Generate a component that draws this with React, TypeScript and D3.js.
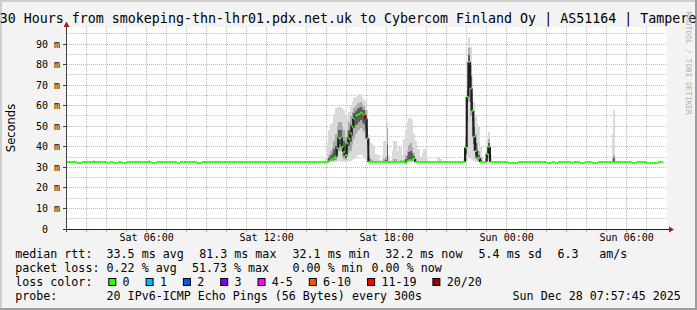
import React from 'react';
import * as d3 from 'd3';

// ---------- data (5-minute bins starting Sat 02:00) ----------
const N = NaN;
const median: number[] = [
  32.6, 32.6, 32.6, 32.6, 32.6, 32.6, 32.1, 32.1, 32.1, 32.6, 32.6, 32.6, // 02h
  32.6, 32.6, 32.6, 32.6, 32.6, 32.6, 32.6, 32.6, 32.6, 32.6, 32.6, 32.6, // 03h
  32.1, 32.1, 32.6, 32.6, 32.1, 32.1, 32.1, 32.6, 32.6, 32.1, 32.1, 32.1, // 04h
  32.6, 32.6, 32.6, 32.6, 32.6, 32.6, 32.6, 32.6, 32.6, 32.6, 32.6, 32.6, // 05h
  32.6, 32.6, 32.6, 32.1, 32.1, 32.1, 32.6, 32.6, 32.6, 32.6, 32.6, 32.6, // 06h
  32.6, 32.6, 32.6, 32.6, 32.6, 32.6, 32.1, 32.1, 32.6, 32.6, 32.6, 32.6, // 07h
  32.6, 32.6, 32.6, 32.6, 32.6, 32.6, 32.1, 32.1, 32.1, 32.6, 32.6, 32.6, // 08h
  32.6, 32.6, 32.6, 32.6, 32.6, 32.6, 32.6, 32.6, 32.6, 32.6, 32.6, 32.6, // 09h
  32.6, 32.6, 32.6, 32.6, 32.6, 32.6, 32.6, 32.6, 32.6, 32.6, 32.6, 32.6, // 10h
  32.6, 32.6, 32.6, 32.6, 32.6, 32.6, 32.6, 32.6, 32.6, 32.6, 32.6, 32.6, // 11h
  32.6, 32.6, 32.6, 32.6, 32.6, 32.6, 32.6, 32.6, 32.6, 32.6, 32.6, 32.6, // 12h
  32.6, 32.6, 32.6, 32.6, 32.6, 32.6, 32.6, 32.6, 32.6, 32.6, 32.6, 32.6, // 13h
  32.6, 32.6, 32.6, 32.6, 32.6, 32.6, 32.6, 32.6, 32.6, 32.6, 32.6, 32.6, // 14h
  32.6, 33.0, 33.6, 34.0, 34.6, 35.2, 39.3, 44.1, 44.4, 40.0, 37.5, 36.0, // 15h
  41.7, 44.0, 46.5, 49.8, 53.8, 55.1, 55.5, 55.9, 56.6, 56.2, 55.4, 53.4, // 16h
  44.1, 32.6, 32.6, 32.6, 32.6, 32.6, 32.6, 32.6, 32.6, 32.6, 32.6, 32.6, // 17h
  32.6, 32.6, 32.6, 32.6, 32.6, 32.6, 32.6, 32.6, 32.6, 32.6, 32.6, 32.1, // 18h
  33.0, 33.5, 33.5, 33.8, 34.2, 32.6, 32.6, 32.6, 32.6, 32.6, 32.6, 32.6, // 19h
  32.6, 32.6, 32.6, 32.6, 32.6, 32.6, 32.6, 32.6, 32.6, 32.6, 32.6, 32.6, // 20h
  32.6, 32.6, 32.6, 32.6, 32.6, 32.6, 32.6, 32.6, 32.6, 32.6, 32.6, 39.7, // 21h
  64.3, 81.3, 68.4, 57.5, 44.9, 38.0, 34.7, 34.4, 32.6, 32.6, 32.6, 32.6, // 22h
  36.5, 40.0, 32.6, 32.6, 32.6, 32.6, 32.6, 32.6, 32.6, 32.6, 32.6, 32.6, // 23h
  32.6, 32.1, 32.1, 32.1, 32.1, 32.1, 32.1, 32.6, 32.6, 32.6, 32.6, 32.6, // 00h
  32.6, 32.6, 32.6, 32.6, 32.6, 32.6, 32.6, 32.6, 32.6, 32.6, 32.6, 32.6, // 01h
  32.1, 32.1, 32.1, 32.6, 32.6, 32.1, 32.1, 32.6, 32.6, 32.6, 32.6, 32.6, // 02h
  32.6, 32.6, 32.6, 32.1, 32.6, 32.6, 32.6, 32.6, 32.1, 32.1, 32.1, 32.6, // 03h
  32.6, 32.6, 32.6, 32.1, 32.1, 32.1, 32.1, 32.6, 32.6, 32.6, 32.6, 32.6, // 04h
  32.6, 32.6, 32.6, 32.6, 32.6, 32.6, 32.6, 32.6, 32.6, 32.6, 32.6, 32.6, // 05h
  32.6, 32.6, 32.6, 32.1, 32.1, 32.1, 32.6, 32.6, 32.6, 32.6, 32.6, 32.6, // 06h
  32.1, 32.1, 32.1, 32.1, 32.1, 32.1, 32.1, 32.6, 32.6, 32.6, N, N,          // 07h
];

// loss classes (index into lossLabels) for bins with packet loss
const lossBins = [178, 179];
const lossClass = [5, 6];
const lossLabels = ['0', '1', '2', '3', '4-5', '6-10', '11-19', '20/20'];
const lossColors = ['#26ff00', '#00b8ff', '#0059ff', '#7e00ff', '#ff00ff', '#ff5500', '#ff0000', '#a10000'];

// smoke rows: [bin, min, lower, upper, max] in ms
const smokeEarly = [
  [16, 32.5, 32.6, 32.8, 33.8],
  [49, 32.5, 32.6, 32.8, 33.5],
];
const smokeEpisode1 = [
  [155, 32.4, 32.5, 33, 35], [156, 32.4, 32.5, 34, 42], [157, 32.4, 32.6, 36, 48],
  [158, 32.4, 33, 38, 51], [159, 32.4, 33, 40, 52], [160, 32.4, 33, 43, 56],
  [161, 32.4, 33.5, 46, 59], [162, 32.5, 35, 50, 59.5], [163, 33, 38, 52, 59.5],
  [164, 33, 38, 52, 59.5], [165, 32.6, 35, 50, 59], [166, 32.5, 34, 48, 58],
  [167, 32.4, 33.5, 45, 55], [168, 32.5, 35, 48, 54], [169, 33, 37, 52, 57],
  [170, 33, 38, 55, 60], [171, 33.5, 41, 57, 62], [172, 34, 44, 59, 63.7],
  [173, 35, 46, 60, 64], [174, 36, 47, 61, 65], [175, 36, 48, 61.5, 65.5],
  [176, 36, 49, 62, 65.5], [177, 36, 48, 61, 64], [178, 35, 47, 60, 63],
  [179, 34, 44, 58, 62], [180, 32.5, 38, 54, 58], [181, 32.4, 32.5, 36, 45.7],
];
const smokeAfter = [
  [182, 32.4, 32.5, 34, 41.8], [183, 32.4, 32.5, 33.5, 41.5], [184, 32.4, 32.5, 33, 40],
  [185, 32.4, 32.5, 33, 36.5], [186, 32.4, 32.5, 33, 36], [187, 32.4, 32.5, 33, 36],
  [188, 32.4, 32.5, 32.8, 33.5], [189, 32.4, 32.5, 33, 36], [190, 32.4, 32.5, 34, 43],
  [191, 32.4, 32.6, 35, 43], [192, 32.5, 33.5, 49, 51.7], [193, 32.4, 32.5, 33, 36],
  [194, 32.4, 32.5, 32.8, 33.5], [195, 32.4, 32.5, 33, 38], [196, 32.4, 32.5, 34, 43],
  [197, 32.4, 32.5, 34, 43], [198, 32.4, 32.5, 33, 38], [199, 32.4, 32.5, 33, 40],
  [200, 32.4, 32.5, 33.5, 40], [201, 32.4, 32.5, 33, 36], [202, 32.4, 32.5, 33.5, 44],
  [203, 32.3, 32.4, 36, 48], [204, 32.4, 32.6, 38, 51.5], [205, 32.5, 33, 41, 54],
  [206, 32.5, 33, 42, 54], [207, 32.5, 33, 40, 53], [208, 32.5, 33, 37, 46],
  [209, 32.4, 32.5, 34, 43], [210, 32.4, 32.5, 33, 39], [211, 32.4, 32.5, 33, 39],
  [212, 32.4, 32.5, 32.8, 35], [213, 32.4, 32.5, 33, 37], [214, 32.4, 32.5, 33, 39],
  [215, 32.4, 32.5, 33, 39], [216, 32.4, 32.5, 32.8, 34], [222, 32.4, 32.5, 32.8, 35],
  [223, 32.4, 32.5, 32.8, 35], [224, 32.4, 32.5, 32.8, 34],
];
const smokeEpisode2 = [
  [238, 32.4, 32.5, 33, 34], [239, 32.3, 33, 41, 45], [240, 33, 40, 70, 80],
  [241, 35, 62, 88, 93.5], [242, 34, 55, 80, 88.7], [243, 33.5, 48, 66, 75],
  [244, 33, 38, 54, 62], [245, 32.5, 34, 46, 55], [246, 32.4, 33, 42, 51],
  [247, 32.4, 33, 38, 49.8], [248, 32.4, 32.5, 35, 40], [249, 32.4, 32.5, 33, 35],
  [251, 32.4, 32.5, 34, 38], [252, 32.4, 33, 40, 44], [253, 32.5, 34, 44, 47.3],
  [254, 32.4, 32.5, 33, 36],
];
const smokeLate = [
  [327, 32.4, 32.6, 34, 46],
  [328, 32.4, 32.6, 36, 57.9],
];

const yMajor = [10, 20, 30, 40, 50, 60, 70, 80, 90];
const yMinor = [5, 15, 25, 35, 45, 55, 65, 75, 85, 95];
const xLabelTimes = [
  new Date(2025, 11, 27, 6), new Date(2025, 11, 27, 12), new Date(2025, 11, 27, 18),
  new Date(2025, 11, 28, 0), new Date(2025, 11, 28, 6),
];

const titleText = '30 Hours from smokeping-thn-lhr01.pdx.net.uk to Cybercom Finland Oy | AS51164 | Tampere';
const legendLine1 = [
  [16, 'median rtt:'], [107.3, '33.5 ms avg'], [200, '81.3 ms max'], [293.3, '32.1 ms min'],
  [386, '32.2 ms now'], [479.3, '5.4 ms sd'], [558.3, '6.3'], [600, 'am/s'],
];
const legendLine2 = [
  [16, 'packet loss:'], [107.3, '0.22 % avg'], [192.7, '51.73 % max'], [293.3, '0.00 % min'], [372.3, '0.00 % now'],
];
const legendLine4 = [
  [16, 'probe:'], [107.3, '20 IPv6-ICMP Echo Pings (56 Bytes) every 300s'], [513.3, 'Sun Dec 28 07:57:45 2025'],
];

// ---------- layout ----------
const W = 697, H = 310;
const PX0 = 66.67, PX1 = 666.67, PY0 = 229, PYT = 27;
const MONO = 'DejaVu Sans Mono, monospace';
const CW = 7.0; // legend char width

export default function App() {
  const tStart = new Date(2025, 11, 27, 2, 0, 0);
  const tEnd = new Date(2025, 11, 28, 8, 0, 0);
  const x = d3.scaleTime().domain([tStart, tEnd]).range([PX0, PX1]);
  const y = d3.scaleLinear().domain([0, 90]).range([PY0, 44]);
  const bx = (i: number) => x(d3.timeMinute.offset(tStart, i * 5));

  const hours = d3.timeHour.range(new Date(2025, 11, 27, 3), tEnd);
  const crisp = (v: number) => Math.floor(v) + 0.5;

  const smokeRows = [...smokeEarly, ...smokeEpisode1, ...smokeAfter, ...smokeEpisode2, ...smokeLate];

  const lossOf = (i: number) => {
    const k = lossBins.indexOf(i);
    return k >= 0 ? lossClass[k] : 0;
  };

  // legend item positions
  let lx = 108.3;
  const legendItems = lossLabels.map((lab, k) => {
    const item = { box: lx, text: lx + 15, lab, color: lossColors[k] };
    lx = lx + 15 + lab.length * CW + 15.3;
    return item;
  });

  const bw = (i: number) => bx(i + 1) - bx(i);

  return (
    <svg width={W} height={H} style={{ position: 'absolute', left: 0, top: 0, display: 'block' }}>
      <rect x={0} y={0} width={W} height={H} fill="#f3f3f3" />
      {/* shade frame */}
      <rect x={0} y={0} width={W} height={2} fill="#cfcfcf" />
      <rect x={0} y={0} width={2} height={H} fill="#cfcfcf" />
      <rect x={0} y={H - 2} width={W} height={2} fill="#9e9e9e" />
      <rect x={W - 2} y={0} width={2} height={H} fill="#9e9e9e" />

      {/* canvas */}
      <rect x={67} y={PYT} width={600} height={PY0 - PYT} fill="#ffffff" />

      {/* grid */}
      {yMinor.map(v => (
        <line key={'hm' + v} x1={67} x2={667} y1={crisp(y(v))} y2={crisp(y(v))} stroke="#c4c4c4" strokeDasharray="1,1" />
      ))}
      {yMajor.map(v => (
        <line key={'hM' + v} x1={67} x2={667} y1={crisp(y(v))} y2={crisp(y(v))} stroke="#f2a0a0" strokeDasharray="1,1" />
      ))}
      {hours.map(h => {
        const major = h.getHours() % 3 === 0;
        const xx = crisp(x(h));
        return (
          <g key={'v' + h.getTime()}>
            <line x1={xx} x2={xx} y1={PYT} y2={PY0} stroke={major ? '#f2a0a0' : '#c4c4c4'} strokeDasharray="1,1" />
            <line x1={xx} x2={xx} y1={PY0} y2={PY0 + 3} stroke={major ? '#f08080' : '#b0b0b0'} />
          </g>
        );
      })}

      {/* smoke: outer (min..max), inner (lower..upper), dense core around the median */}
      <g shapeRendering="crispEdges">
        {smokeRows.map(r => (
          <rect key={'so' + r[0]} x={bx(r[0])} width={bw(r[0])} y={y(r[4])} height={y(r[1]) - y(r[4])} fill="#dadada" />
        ))}
        {smokeRows.map(r => (
          <rect key={'si' + r[0]} x={bx(r[0])} width={bw(r[0])} y={y(r[3])} height={y(r[2]) - y(r[3])} fill="#ababab" />
        ))}
        {smokeRows.map(r => {
          const m = median[r[0]];
          const top = (m + r[3]) / 2;
          const bot = (m + r[2]) / 2;
          return (
            <rect key={'sc' + r[0]} x={bx(r[0])} width={bw(r[0])} y={y(top)} height={Math.max(0, y(bot) - y(top))} fill="#5c5c5c" />
          );
        })}
      </g>

      {/* dark connectors between median steps */}
      {median.map((v, i) => {
        const nv = median[i + 1];
        if (i + 1 >= median.length || isNaN(v) || isNaN(nv) || Math.abs(nv - v) < 1) return null;
        const xx = bx(i + 1);
        return <line key={'c' + i} x1={xx} x2={xx} y1={y(v)} y2={y(nv)} stroke="#1e1e1e" strokeWidth={2} />;
      })}

      {/* median */}
      {median.map((v, i) => (isNaN(v) ? null : (
        <line key={'m' + i} x1={bx(i)} x2={bx(i + 1)} y1={y(v)} y2={y(v)} stroke={lossColors[lossOf(i)]} strokeWidth={2} />
      )))}

      {/* axes */}
      <line x1={63} x2={669} y1={PY0 + 0.5} y2={PY0 + 0.5} stroke="#222" />
      <line x1={66.5} x2={66.5} y1={24} y2={232} stroke="#444" />
      <path d={`M669,${PY0 - 2.5} L674,${PY0 + 0.5} L669,${PY0 + 3.5} Z`} fill="#9a1c1c" />
      <path d={`M63.5,27 L66.5,21.5 L69.5,27 Z`} fill="#9a1c1c" />
      {yMajor.map(v => (
        <line key={'yt' + v} x1={63} x2={67} y1={crisp(y(v))} y2={crisp(y(v))} stroke="#444" />
      ))}

      {/* y labels */}
      <g fontFamily={MONO} fontSize={10} fill="#000">
        {yMajor.map(v => (
          <g key={'yl' + v}>
            <text x={48} y={y(v) + 3.6} textAnchor="end">{String(v)}</text>
            <text x={54} y={y(v) + 3.6}>m</text>
          </g>
        ))}
        <text x={48} y={y(0) + 3.6} textAnchor="end">0</text>
        {xLabelTimes.map(t => (
          <text key={'xl' + t.getTime()} x={x(t)} y={241.3} textAnchor="middle">{d3.timeFormat('%a %H:%M')(t)}</text>
        ))}
      </g>

      <text transform="translate(15,128) rotate(-90)" textAnchor="middle" fontFamily="DejaVu Sans, sans-serif" fontSize={11.5} fill="#000">Seconds</text>

      {/* title */}
      <text x={348} y={23.3} textAnchor="middle" fontFamily={MONO} fontSize={13.3} fill="#000">{titleText}</text>

      {/* watermark */}
      <text transform="translate(685.5,11.5) rotate(90)" fontFamily={MONO} fontSize={7.8} fill="#b0b0b0">RRDTOOL / TOBI OETIKER</text>

      {/* legend */}
      <g fontFamily={MONO} fontSize={11.65} fill="#000">
        {legendLine1.map(([px, s]) => <text key={'l1' + px} x={(px as number) - 0.7} y={258}>{s}</text>)}
        {legendLine2.map(([px, s]) => <text key={'l2' + px} x={(px as number) - 0.7} y={272}>{s}</text>)}
        <text x={15.3} y={286}>loss color:</text>
        {legendItems.map(it => (
          <g key={'li' + it.lab}>
            <rect x={it.box + 0.5} y={278.5} width={7} height={7} fill={it.color} stroke="#000" />
            <text x={it.text - 0.7} y={286}>{it.lab}</text>
          </g>
        ))}
        {legendLine4.map(([px, s]) => <text key={'l4' + px} x={(px as number) - 0.7} y={300}>{s}</text>)}
      </g>
    </svg>
  );
}
